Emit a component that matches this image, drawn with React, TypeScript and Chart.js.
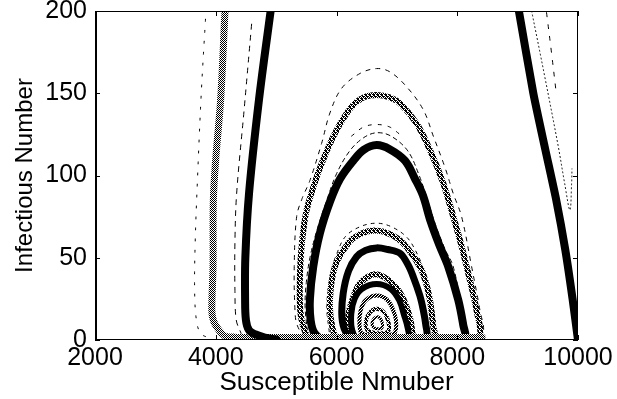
import React, { useEffect, useRef } from "react";
import { Chart, registerables } from "chart.js";

Chart.register(...registerables);

// ---- axes ----
const X_TICKS = [2000, 4000, 6000, 8000, 10000];
const Y_TICKS = [0, 50, 100, 150, 200];
const X_TITLE = "Susceptible Nmuber";
const Y_TITLE = "Infectious Number";

// ---- thick black outer trajectory (left and right branches) ----
const blackLeftS = [4909, 4716, 4551, 4490, 4486, 4500, 4550, 4650, 4815, 5000];
const blackLeftI = [200, 146, 89, 50, 25, 12, 6, 3.5, 1.5, 0.3];
const blackRightS = [9021, 9260, 9460, 9640, 9790, 9910, 10000];
const blackRightI = [200, 150, 115.5, 85, 54.7, 25, 0];

// ---- closed black orbits (bottom runs along I = 0) ----
const black120S = [6400, 5850, 5640, 5572, 5560, 5615, 5726, 5891, 6060, 6278, 6450, 6665, 6880, 7134, 7300, 7430, 7560, 7700, 7851, 8017, 8100, 8128, 7900, 7300];
const black120I = [-2, -1, 4, 12, 25, 44.6, 65, 84, 98, 109, 115.6, 118.5, 116, 109, 98, 88, 72, 58, 44.6, 24.3, 9, 1, -2, -2];
const black56S = [6700, 6300, 6150, 6090, 6111, 6200, 6333, 6480, 6665, 6850, 7051, 7180, 7271, 7380, 7437, 7480, 7492, 7350];
const black56I = [-2, -1, 5, 14, 28.4, 42, 50.6, 54.5, 56, 55, 52.7, 46, 38.5, 27, 18.2, 9, 2, -2];
const black33S = [6700, 6380, 6260, 6245, 6300, 6420, 6665, 6900, 7040, 7120, 7175, 7190, 7050];
const black33I = [-2, -1, 6, 16, 25, 31, 34, 31, 24, 15, 8, 2, -2];

// ---- checkered (marker) orbits ----
const chk150S = [6200, 5600, 5470, 5400, 5395, 5430, 5500, 5600, 5730, 5974, 6251, 6450, 6665, 6880, 7051, 7326, 7548, 7768, 7934, 8050, 8155, 8250, 8320, 8376, 8200];
const chk150I = [-2, -1, 6, 18, 40, 60, 78, 91, 105, 125.6, 141.8, 147.5, 149, 147.5, 143.9, 131.7, 115.5, 95.3, 75, 60, 44.6, 30, 18, 3, -2];
const chk67S = [6500, 6050, 5930, 5891, 5974, 6195, 6400, 6640, 6880, 7105, 7382, 7480, 7548, 7603, 7630, 7450];
const chk67I = [-2, -1, 8, 24.3, 44.6, 58.8, 64.5, 66.5, 64.5, 58.8, 44.6, 35, 24.3, 8, 1, -2];
const chk40S = [6700, 6280, 6195, 6200, 6260, 6360, 6500, 6640, 6800, 6968, 7080, 7161, 7220, 7244, 7250, 7100];
const chk40I = [-2, -1, 8, 16, 24, 33, 38, 40, 38, 33, 27, 20, 13, 8, 2, -2];
const inner26S = [6700, 6420, 6380, 6400, 6480, 6665, 6850, 6960, 6990, 6950, 6700];
const inner26I = [2, 4, 10, 18, 24, 27, 24, 16, 9, 4, 2];
const inner18S = [6650, 6510, 6490, 6560, 6665, 6780, 6860, 6850, 6650];
const inner18I = [4, 6, 12, 17, 19, 17, 11, 5, 4];
const inner10S = [6640, 6590, 6620, 6700, 6760, 6740, 6640];
const inner10I = [7, 9, 13, 14, 10, 7, 7];

// ---- big grey trajectory and the band along I = 0 ----
const greyS = [4153, 4081, 4000, 3960, 3955, 3935, 3960, 4014, 4100, 4180, 4300];
const greyI = [200, 146, 110, 85, 44.6, 18, 12, 8, 4, 2, 1.8];
const bandS = [4200, 5000, 6000, 7000, 8000, 8420];
const bandI = [1.8, 1.8, 1.8, 1.8, 1.8, 1.8];

// ---- thin dashed / dotted trajectories ----
const dash165S = [6300, 5600, 5430, 5340, 5312, 5300, 5340, 5430, 5560, 5754, 5891, 6085, 6388, 6665, 6885, 7160, 7437, 7603, 7796, 7934, 8072, 8238, 8376, 8430, 8250];
const dash165I = [-1, 0, 4, 10, 18, 44.6, 75, 86, 97, 119.6, 138, 153, 162, 165, 163, 154, 140, 124, 105, 89, 75, 44.6, 18, 4, -1];
const dash126S = [5520, 5480, 5500, 5560, 5670, 5830, 6000, 6220, 6450, 6665, 6900, 7180, 7370, 7500, 7640, 7800, 7930, 8070, 8140];
const dash126I = [5, 20, 35, 50, 66, 84, 101, 115, 123, 126, 124, 115, 100, 86, 70, 55, 45, 20, 5];
const dash131S = [6250, 6450, 6665, 6880, 7050];
const dash131I = [124, 129.5, 131, 129.5, 125];
const dash71S = [5880, 5840, 5900, 6000, 6150, 6400, 6665, 6900, 7150, 7300, 7450, 7600, 7660];
const dash71I = [5, 20, 40, 52, 63, 69, 71, 69, 63, 55, 42, 20, 5];
const dotAS = [3830, 3760, 3700, 3660, 3650, 3680, 3750, 3900];
const dotAI = [195, 150, 100, 60, 30, 12, 4, 1];
const dotBS = [4594, 4470, 4346, 4318, 4318, 4340, 4420];
const dotBI = [192, 140, 89, 60, 30, 12, 4];
const dotCS = [9232, 9450, 9674, 9780, 9866, 9894, 9900];
const dotCI = [200, 160, 117.5, 95, 79, 95, 104];
const dotES = [9479, 9560, 9640];
const dotEI = [199, 175, 150];

const FONT = "'Liberation Sans', Arial, Helvetica, sans-serif";

function pts(s: number[], i: number[]) {
  return s.map((v, k) => ({ x: v, y: i[k] }));
}

function makePattern(rows: string[]): CanvasPattern | string {
  const c = document.createElement("canvas");
  c.width = rows[0].length;
  c.height = rows.length;
  const g = c.getContext("2d");
  if (!g) return "#777";
  g.fillStyle = "#fff";
  g.fillRect(0, 0, c.width, c.height);
  g.fillStyle = "#000";
  rows.forEach((r, y) => {
    for (let x = 0; x < r.length; x++) if (r[x] === "1") g.fillRect(x, y, 1, 1);
  });
  return g.createPattern(c, "repeat") || "#777";
}

const framePlugin = {
  id: "frame",
  afterDatasetsDraw(chart: any) {
    const { ctx, chartArea } = chart;
    const { left, right, top, bottom } = chartArea;
    const xs = chart.scales.x;
    const ys = chart.scales.y;
    ctx.save();
    ctx.strokeStyle = "#000";
    ctx.lineWidth = 1;
    ctx.beginPath();
    ctx.moveTo(left, top + 0.5);
    ctx.lineTo(right, top + 0.5);
    ctx.moveTo(right - 0.5, top);
    ctx.lineTo(right - 0.5, bottom);
    ctx.moveTo(left, bottom - 0.5);
    ctx.lineTo(right, bottom - 0.5);
    ctx.stroke();
    ctx.lineWidth = 2;
    ctx.beginPath();
    ctx.moveTo(left + 1, top);
    ctx.lineTo(left + 1, bottom);
    ctx.stroke();
    ctx.lineWidth = 1;
    ctx.beginPath();
    X_TICKS.forEach((v) => {
      const p = Math.round(xs.getPixelForValue(v)) + 0.5;
      ctx.moveTo(p, bottom);
      ctx.lineTo(p, bottom - 5);
      ctx.moveTo(p, top);
      ctx.lineTo(p, top + 5);
    });
    Y_TICKS.forEach((v) => {
      const p = Math.round(ys.getPixelForValue(v)) + 0.5;
      ctx.moveTo(left, p);
      ctx.lineTo(left + 5, p);
      ctx.moveTo(right, p);
      ctx.lineTo(right - 5, p);
    });
    ctx.stroke();
    ctx.restore();
  },
};

export default function App() {
  const ref = useRef<HTMLCanvasElement | null>(null);

  useEffect(() => {
    if (!ref.current) return;
    const checker = makePattern(["10", "01"]);
    const mixed = makePattern(["1011", "0101", "1110", "0110"]);
    const mixed2 = makePattern(["101", "011", "110"]);

    const solid = (s: number[], i: number[], w: number, color: any, extra: any = {}) => ({
      data: pts(s, i),
      showLine: true,
      borderColor: color,
      borderWidth: w,
      pointRadius: 0,
      tension: 0.35,
      borderJoinStyle: "round",
      borderCapStyle: "round",
      fill: false,
      clip: 0,
      ...extra,
    });

    const datasets: any[] = [
      solid(blackLeftS, blackLeftI, 8, "#000"),
      solid(blackRightS, blackRightI, 8, "#000", { tension: 0.2 }),
      solid(bandS, bandI, 6, checker),
      solid(black120S, black120I, 8, "#000"),
      solid(black56S, black56I, 7, "#000"),
      solid(black33S, black33I, 6, "#000"),
      solid(inner10S, inner10I, 3, mixed2),
      solid(inner18S, inner18I, 4, mixed),
      solid(inner26S, inner26I, 4, mixed2),
      solid(chk40S, chk40I, 6, mixed),
      solid(chk67S, chk67I, 6, mixed),
      solid(chk150S, chk150I, 6, mixed),
      solid(dash71S, dash71I, 1, "#000", { borderDash: [3, 5] }),
      solid(dash126S, dash126I, 1, "#000", { borderDash: [4, 4] }),
      solid(dash131S, dash131I, 1, "#000", { borderDash: [3, 7] }),
      solid(dash165S, dash165I, 1, "#000", { borderDash: [4, 6] }),
      solid(dotAS, dotAI, 1, "#000", { borderDash: [2, 9] }),
      solid(dotBS, dotBI, 1, "#000", { borderDash: [5, 6] }),
      solid(dotCS, dotCI, 1, "#000", { borderDash: [1, 3] }),
      solid(dotES, dotEI, 1, "#000", { borderDash: [4, 8] }),
      solid(greyS, greyI, 7, checker),
    ];

    const tickFont = { family: FONT, size: 25 };
    const chart = new Chart(ref.current, {
      type: "scatter",
      data: { datasets },
      plugins: [framePlugin],
      options: {
        animation: false,
        responsive: false,
        maintainAspectRatio: false,
        devicePixelRatio: 1,
        layout: { padding: { left: 0, right: 39, top: 11, bottom: 0 } },
        plugins: { legend: { display: false }, tooltip: { enabled: false } },
        scales: {
          x: {
            type: "linear",
            min: 2000,
            max: 10000,
            grid: { display: false, drawTicks: false },
            border: { display: false },
            afterBuildTicks: (s: any) => {
              s.ticks = X_TICKS.map((v) => ({ value: v }));
            },
            ticks: {
              maxRotation: 0,
              autoSkip: false,
              padding: 3,
              color: "#000",
              font: tickFont,
              callback: (v: any) => String(v),
            },
            title: {
              display: true,
              text: X_TITLE,
              color: "#000",
              font: { family: FONT, size: 26 },
              padding: { top: 0, bottom: 1 },
            },
            afterFit: (s: any) => {
              s.height = 59;
              s.paddingLeft = 0;
              s.paddingRight = 0;
            },
          },
          y: {
            type: "linear",
            min: 0,
            max: 200,
            grid: { display: false, drawTicks: false },
            border: { display: false },
            afterBuildTicks: (s: any) => {
              s.ticks = Y_TICKS.map((v) => ({ value: v }));
            },
            ticks: {
              padding: 8,
              color: "#000",
              font: tickFont,
              callback: (v: any) => String(v),
            },
            title: {
              display: true,
              text: Y_TITLE,
              color: "#000",
              font: { family: FONT, size: 24 },
              padding: { top: 11, bottom: 0 },
            },
            afterFit: (s: any) => {
              s.width = 95;
              s.paddingTop = 0;
              s.paddingBottom = 0;
            },
          },
        },
      },
    } as any);
    return () => chart.destroy();
  }, []);

  return (
    <div style={{ position: "absolute", left: 0, top: 0, width: 617, height: 399, background: "#fff" }}>
      <canvas ref={ref} width={617} height={399} style={{ width: 617, height: 399, display: "block" }} />
    </div>
  );
}
